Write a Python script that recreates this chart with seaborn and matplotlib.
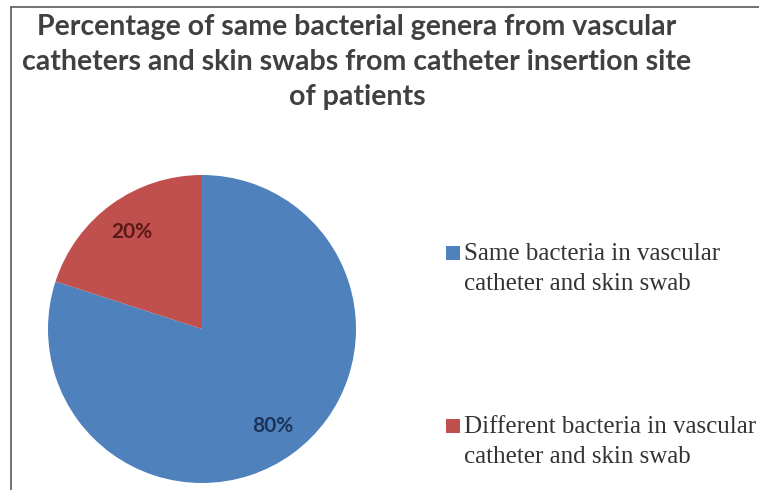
import matplotlib
matplotlib.use("Agg")
import matplotlib.pyplot as plt
import seaborn as sns
from matplotlib.lines import Line2D
from matplotlib.patches import Rectangle

# Chart content
title = ("Percentage of same bacterial genera from vascular\n"
         "catheters and skin swabs from catheter insertion site\n"
         "of patients")
categories = ["Same bacteria in vascular\ncatheter and skin swab",
              "Different bacteria in vascular\ncatheter and skin swab"]
shares = [80, 20]
slice_colors = ["#4F81BD", "#C0504D"]
label_colors = ["#1B3358", "#5A1818"]

sns.set_theme(style="white")
plt.rcParams["font.family"] = ["Lato", "DejaVu Sans"]

W, H = 759, 490
fig = plt.figure(figsize=(W / 100, H / 100), dpi=100)
fig.patch.set_facecolor("white")

# Pie axes: centre and radius in pixels
cx, cy, r = 202, 329, 154
ax = fig.add_axes([(cx - r) / W, (H - cy - r) / H, 2 * r / W, 2 * r / H])
wedges, texts, autotexts = ax.pie(
    shares, colors=slice_colors, startangle=90, counterclock=False,
    autopct="%.0f%%", pctdistance=0.78,
    wedgeprops=dict(linewidth=0),
    textprops=dict(fontsize=15, fontweight="bold"))
for t, c in zip(autotexts, label_colors):
    t.set_color(c)
ax.set_xlim(-1, 1)
ax.set_ylim(-1, 1)
ax.set_aspect("equal")
ax.axis("off")

# Title
fig.text(357 / W, 1 - 13.5 / H, title, ha="center", va="top",
         fontsize=20.5, fontweight="bold", color="#404040",
         linespacing=1.45)

# Legend: colour square followed by a two-line label
legend_rows = [246, 419]
for label, color, top in zip(categories, slice_colors, legend_rows):
    fig.patches.append(Rectangle((446 / W, 1 - (top + 14) / H), 14 / W, 14 / H,
                                 transform=fig.transFigure, facecolor=color,
                                 edgecolor="none"))
    fig.text(464 / W, 1 - (top - 3) / H, label, ha="left", va="top",
             fontsize=18, family=["Liberation Serif", "DejaVu Serif"],
             color="#333333", linespacing=1.46)

# Chart area border (top and left edges visible)
fig.lines.append(Line2D([11 / W, 1], [1 - 7 / H, 1 - 7 / H],
                        transform=fig.transFigure, color="#5a5a5a", lw=1.2))
fig.lines.append(Line2D([11 / W, 11 / W], [0, 1 - 7 / H],
                        transform=fig.transFigure, color="#5a5a5a", lw=1.2))

fig.savefig("out.png", dpi=100, facecolor="white")
